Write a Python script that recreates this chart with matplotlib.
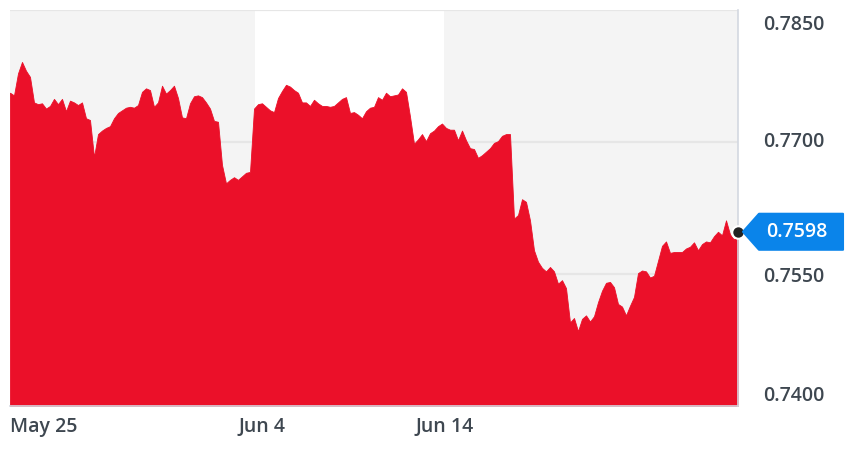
import matplotlib
matplotlib.use("Agg")
import matplotlib.pyplot as plt
from matplotlib.patches import Polygon
import numpy as np

# ============= DATA =============
# price samples, evenly spaced in trading time (about every 3 hours)
prices = [
    0.7756, 0.7753, 0.7778, 0.7791, 0.7781, 0.7774, 0.7745, 0.7743, 0.7744, 0.7738,
    0.7741, 0.7749, 0.7743, 0.7749, 0.7735, 0.7747, 0.7745, 0.7742, 0.7745, 0.7727,
    0.7725, 0.7683, 0.7709, 0.7713, 0.7716, 0.7718, 0.7727, 0.7733, 0.7736, 0.7739,
    0.7740, 0.7739, 0.7742, 0.7757, 0.7761, 0.7759, 0.7740, 0.7745, 0.7764, 0.7755,
    0.7759, 0.7764, 0.7750, 0.7728, 0.7727, 0.7744, 0.7752, 0.7753, 0.7751, 0.7745,
    0.7738, 0.7724, 0.7723, 0.7674, 0.7653, 0.7657, 0.7660, 0.7657, 0.7661, 0.7665,
    0.7666, 0.7738, 0.7743, 0.7744, 0.7740, 0.7736, 0.7734, 0.7750, 0.7758, 0.7765,
    0.7763, 0.7759, 0.7756, 0.7745, 0.7745, 0.7741, 0.7748, 0.7744, 0.7741, 0.7741,
    0.7740, 0.7741, 0.7745, 0.7749, 0.7751, 0.7733, 0.7734, 0.7731, 0.7727, 0.7735,
    0.7739, 0.7740, 0.7751, 0.7748, 0.7756, 0.7752, 0.7753, 0.7754, 0.7761, 0.7757,
    0.7729, 0.7698, 0.7703, 0.7709, 0.7701, 0.7710, 0.7713, 0.7718, 0.7721, 0.7716,
    0.7714, 0.7714, 0.7702, 0.7713, 0.7702, 0.7693, 0.7692, 0.7682, 0.7685, 0.7689,
    0.7693, 0.7699, 0.7701, 0.7707, 0.7709, 0.7709, 0.7613, 0.7617, 0.7635, 0.7632,
    0.7611, 0.7577, 0.7564, 0.7557, 0.7553, 0.7558, 0.7553, 0.7539, 0.7543, 0.7534,
    0.7495, 0.7500, 0.7485, 0.7499, 0.7503, 0.7496, 0.7502, 0.7518, 0.7531, 0.7540,
    0.7541, 0.7535, 0.7516, 0.7513, 0.7503, 0.7514, 0.7524, 0.7551, 0.7554, 0.7553,
    0.7546, 0.7548, 0.7565, 0.7582, 0.7587, 0.7574, 0.7575, 0.7575, 0.7575, 0.7579,
    0.7581, 0.7586, 0.7577, 0.7584, 0.7587, 0.7586, 0.7593, 0.7598, 0.7594, 0.7611,
    0.7595, 0.7589, 0.7598,
]

# date ticks in sample units, and the edges of the alternating shaded spans
date_ticks = [0, 63, 108.75]
date_labels = ["May 25", "Jun 4", "Jun 14"]
span_edges = [61.25, 108.5]

price_ticks = [0.7850, 0.7700, 0.7550, 0.7400]
y_range = (0.7400, 0.7850)

RED = "#EB1029"
SHADE = "#F4F4F4"
GRID = "#E6E6E6"
TEXT = "#3E4750"
BLUE = "#0A84EA"

plt.rcParams["font.family"] = ["Open Sans", "DejaVu Sans"]
FS = 14
FW = "semibold"

fig = plt.figure(figsize=(8.48, 4.5), dpi=100)
ax = fig.add_axes([10 / 848, 44 / 450, 728 / 848, 396 / 450])

x = np.arange(len(prices))
last = len(prices) - 1
ax.set_xlim(0, last)
ax.set_ylim(*y_range)

# alternating background spans
ax.axvspan(0, span_edges[0], color=SHADE, lw=0, zorder=0)
ax.axvspan(span_edges[1], last, color=SHADE, lw=0, zorder=0)

# horizontal grid
for p in price_ticks:
    ax.axhline(p, color=GRID, lw=1.6, zorder=1)

# area
ax.fill_between(x, prices, y_range[0], color=RED, lw=0.6, edgecolor=RED, zorder=2)

# spines
for s in ["top", "left"]:
    ax.spines[s].set_visible(False)
ax.spines["right"].set_color("#D3D8E0")
ax.spines["right"].set_linewidth(1.2)
ax.spines["bottom"].set_color("#D3D8E0")
ax.spines["bottom"].set_linewidth(1.2)
ax.spines["right"].set_zorder(3)

# x labels
ax.set_xticks(date_ticks)
ax.set_xticklabels(date_labels, fontsize=FS, color=TEXT, fontweight=FW)
ax.tick_params(axis="x", length=0, pad=8)
ax.get_xticklabels()[0].set_ha("left")
ax.set_yticks([])

# y labels on the right, outer ones pulled inward
y_offsets = [-11, 0, -2, 7]
for p, dy in zip(price_ticks, y_offsets):
    ax.annotate(f"{p:.4f}", xy=(1, p), xycoords=("axes fraction", "data"),
                xytext=(18, dy), textcoords="offset points",
                ha="left", va="center", fontsize=FS, color=TEXT, fontweight=FW)

# last price dot
ax.plot([last], [prices[-1]], "o", ms=9, color="#222222", mec="white", mew=1.5,
        zorder=5, clip_on=False)

# current value tag (drawn in pixel coordinates)
fig.canvas.draw()
tx, ty = ax.transData.transform((last, prices[-1]))
h = 18
tag = Polygon([(tx + 5, ty), (tx + 21, ty + h), (tx + 105, ty + h),
               (tx + 105, ty - h), (tx + 21, ty - h)],
              closed=True, transform=None, facecolor=BLUE, edgecolor=BLUE,
              lw=1.5, joinstyle="round", zorder=6)
fig.patches.append(tag)
fig.text((tx + 59) / 848, ty / 450, f"{prices[-1]:.4f}", color="white",
         fontsize=FS, fontweight=FW, ha="center", va="center", zorder=7)

fig.savefig("out.png", dpi=100)
